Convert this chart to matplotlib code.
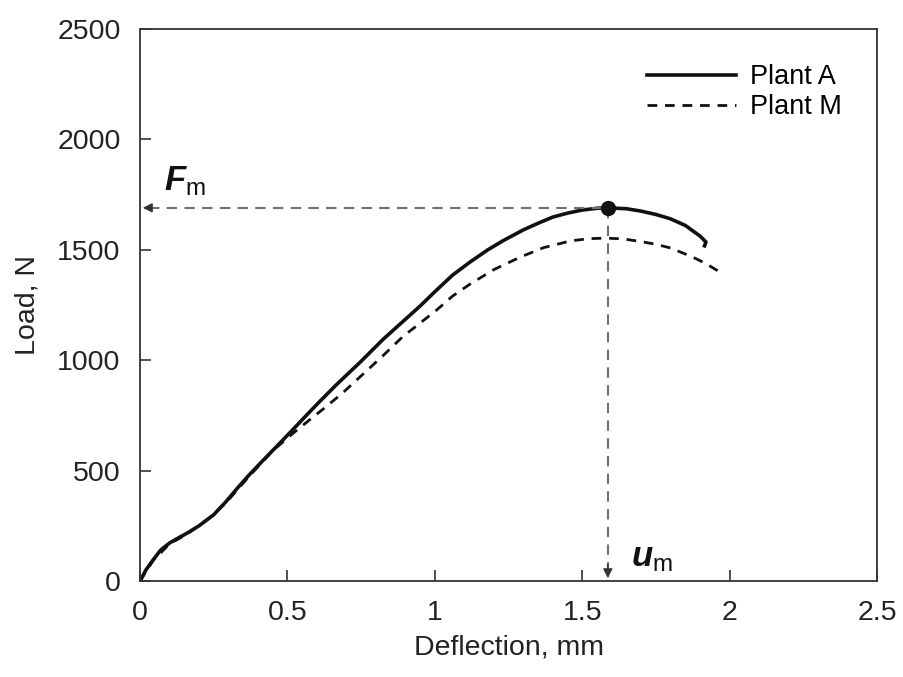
import matplotlib
matplotlib.use("Agg")
import matplotlib.pyplot as plt

plt.rcParams['font.family'] = ['Liberation Sans', 'DejaVu Sans']
plt.rcParams['mathtext.fontset'] = 'custom'
plt.rcParams['mathtext.it'] = 'Liberation Sans:italic:bold'
plt.rcParams['mathtext.rm'] = 'Liberation Sans'

# Plant A (solid)
defl_a = [0, 0.02, 0.044, 0.07, 0.10, 0.13, 0.16, 0.20, 0.25, 0.29, 0.33,
          0.37, 0.42, 0.485, 0.55, 0.60, 0.667, 0.75, 0.825, 0.90, 0.95,
          1.00, 1.06, 1.12, 1.18, 1.23, 1.30, 1.35, 1.40, 1.45, 1.50, 1.55,
          1.587, 1.65, 1.70, 1.75, 1.80, 1.85, 1.90, 1.92, 1.915]
load_a = [0, 50, 95, 140, 172, 195, 217, 250, 300, 357, 420,
          480, 550, 639, 730, 800, 890, 995, 1095, 1185, 1245,
          1310, 1385, 1445, 1500, 1540, 1590, 1620, 1648, 1666, 1680, 1688,
          1690, 1686, 1675, 1660, 1640, 1610, 1562, 1535, 1518]

# Plant M (dashed)
defl_m = [0, 0.044, 0.10, 0.16, 0.23, 0.29, 0.37, 0.45, 0.52, 0.58, 0.63,
          0.69, 0.746, 0.82, 0.89, 0.95, 1.006, 1.06, 1.12, 1.20, 1.29,
          1.37, 1.46, 1.52, 1.58, 1.64, 1.70, 1.75, 1.80, 1.875, 1.92, 1.966]
load_m = [0, 92, 168, 213, 280, 352, 474, 590, 670, 735, 788,
          855, 924, 1015, 1105, 1168, 1227, 1290, 1345, 1410, 1467,
          1510, 1540, 1550, 1553, 1549, 1537, 1525, 1508, 1467, 1437, 1400]

u_m = 1.587
F_m = 1690

fig = plt.figure(figsize=(9.04, 6.77), dpi=100)
ax = fig.add_axes([0.1549, 0.1418, 0.8152, 0.8154])

ax.plot(defl_a, load_a, color='#111111', lw=2.6, label='Plant A')
ax.plot(defl_m, load_m, color='#111111', lw=2.0, dashes=(3.5, 2.8), label='Plant M')

# guide lines to the maximum
guide = '#707070'
ax.plot([0.03, u_m], [F_m, F_m], color=guide, lw=1.5, dashes=(5, 3.5))
ax.plot([u_m, u_m], [F_m, 60], color=guide, lw=1.5, dashes=(5, 3.5))
ax.annotate('', xy=(0, F_m), xytext=(0.04, F_m),
            arrowprops=dict(arrowstyle='-|>', color='#333333', lw=1, mutation_scale=14))
ax.annotate('', xy=(u_m, 0), xytext=(u_m, 90),
            arrowprops=dict(arrowstyle='-|>', color='#333333', lw=1, mutation_scale=14))
ax.plot([u_m], [F_m], 'o', color='#111111', ms=10)

ax.text(0.08, 1770, r'$F_{\mathrm{m}}$', fontsize=25, color='#111111')
ax.text(1.665, 68, r'$u_{\mathrm{m}}$', fontsize=25, color='#111111')

ax.set_xlim(0, 2.5)
ax.set_ylim(0, 2500)
ax.set_xticks([0, 0.5, 1, 1.5, 2, 2.5])
ax.set_xticklabels(['0', '0.5', '1', '1.5', '2', '2.5'])
ax.set_yticks([0, 500, 1000, 1500, 2000, 2500])

for s in ax.spines.values():
    s.set_color('#333333')
    s.set_linewidth(1.3)
ax.tick_params(direction='in', length=8, width=1.2, colors='#333333',
               labelsize=20.5, labelcolor='#222222', pad=14)
ax.set_xlabel('Deflection, mm', fontsize=20.5, color='#222222', labelpad=6)
ax.set_ylabel('Load, N', fontsize=20.5, color='#222222', labelpad=12)

ax.legend(loc='upper right', frameon=False, fontsize=19.5, handlelength=3.3,
          handletextpad=0.5, labelspacing=0.15, borderaxespad=0.9)

fig.savefig('out.png', dpi=100)
